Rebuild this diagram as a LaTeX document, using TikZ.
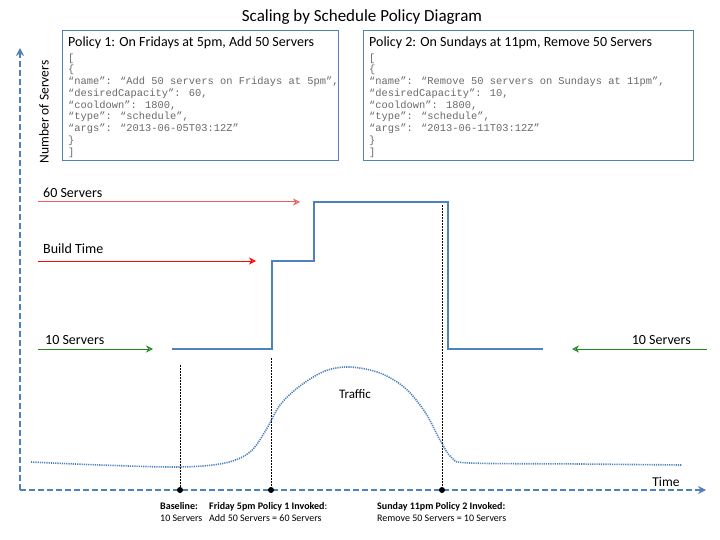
\documentclass[tikz,border=0pt]{standalone}
\usepackage{fontspec}
\setmainfont{Carlito}
\newfontfamily\codefont{Liberation Mono}
\usetikzlibrary{positioning, arrows.meta}
\definecolor{axisblue}{RGB}{79,129,189}
\definecolor{lightred}{RGB}{240,95,95}
\definecolor{darkgreen}{RGB}{30,135,30}
\definecolor{codegray}{RGB}{105,105,105}

\tikzset{
  axis/.style={axisblue, line width=1.6pt, dash pattern=on 6pt off 3pt, -{Stealth[length=8pt,width=8pt]}},
  policybox/.style={draw=axisblue, line width=0.8pt, anchor=north west, minimum height=130pt, inner sep=0pt},
  policytitle/.style={anchor=north west, font=\fontsize{14}{16}\selectfont, inner sep=0pt},
  code/.style={anchor=north west, align=left, inner sep=0pt, text=codegray, font=\codefont\fontsize{10.4}{11.75}\selectfont},
  marker/.style={line width=1pt, -{Stealth[length=7pt,width=7pt,open]}},
  serverlabel/.style={font=\fontsize{14}{16}\selectfont, inner sep=0pt},
  capacity/.style={axisblue, line width=2.2pt},
  guide/.style={black, line width=0.6pt, dash pattern=on 2pt off 1pt},
  dot/.style={circle, fill=black, inner sep=0pt, minimum size=6pt},
  traffic/.style={axisblue, line width=1.6pt, dash pattern=on 1.2pt off 1pt},
  note/.style={font=\fontsize{10}{12}\selectfont, align=left, anchor=north west, inner sep=0pt}
}

\begin{document}
\begin{tikzpicture}[x=1pt, y=-1pt]
\useasboundingbox (0,0) rectangle (720,540);

\node[font=\fontsize{17}{19}\selectfont] (title) at (362,17) {Scaling by Schedule Policy Diagram};

% axes
\coordinate (origin) at (20,490);
\coordinate (ytop) at (20,48);
\coordinate (xend) at (706,490);
\draw[axis] (origin) -- (ytop);
\draw[axis] (origin) -- (xend);
\node[rotate=90, serverlabel, font=\fontsize{13.5}{15}\selectfont] (ylabel) at (44,112) {Number of Servers};
\node[serverlabel, font=\fontsize{13.5}{15}\selectfont] (xlabel) at (666,482) {Time};

% policies
\node[policybox, minimum width=276pt] (box1) at (62,30) {};
\node[policytitle] (p1) at ([xshift=6pt, yshift=-7pt]box1.north west) {Policy 1: On Fridays at 5pm, Add 50 Servers};
\node[code, below=4pt of p1.south west, anchor=north west] (c1) {[\\\{\\“name”: “Add 50 servers on Fridays at 5pm”,\\“desiredCapacity”: 60,\\“cooldown”: 1800,\\“type”: “schedule”,\\“args”: “2013-06-05T03:12Z”\\\}\\]};

\node[policybox, minimum width=330pt] (box2) at (363,30) {};
\node[policytitle] (p2) at ([xshift=6pt, yshift=-7pt]box2.north west) {Policy 2: On Sundays at 11pm, Remove 50 Servers};
\node[code, below=4pt of p2.south west, anchor=north west] (c2) {[\\\{\\“name”: “Remove 50 servers on Sundays at 11pm”,\\“desiredCapacity”: 10,\\“cooldown”: 1800,\\“type”: “schedule”,\\“args”: “2013-06-11T03:12Z”\\\}\\]};

% markers
\coordinate (s60a) at (38,202);
\coordinate (s60b) at (300,202);
\coordinate (builda) at (38,261);
\coordinate (buildb) at (256,261);
\coordinate (s10a) at (38,349);
\coordinate (s10b) at (153,349);
\coordinate (r10a) at (707,349);
\coordinate (r10b) at (572,349);
\draw[marker, lightred] (s60a) -- (s60b);
\draw[marker, red] (builda) -- (buildb);
\draw[marker, darkgreen] (s10a) -- (s10b);
\draw[marker, darkgreen] (r10a) -- (r10b);
\node[serverlabel, anchor=base west] (l60) at (43,198) {60 Servers};
\node[serverlabel, anchor=base west] (lbuild) at (43,254) {Build Time};
\node[serverlabel, anchor=base west] (l10) at (45,344) {10 Servers};
\node[serverlabel, anchor=base east] (r10) at (691,344) {10 Servers};

% capacity
\coordinate (c0) at (172,349);
\coordinate (c1a) at (272,349);
\coordinate (c1b) at (272,261);
\coordinate (c2a) at (314,261);
\coordinate (c2b) at (314,202);
\coordinate (c3a) at (448,202);
\coordinate (c3b) at (448,349);
\coordinate (c4) at (543,349);
\draw[capacity] (c0) -- (c1a) -- (c1b) -- (c2a) -- (c2b) -- (c3a) -- (c3b) -- (c4);

% events
\node[dot] (e1) at (180,490) {};
\node[dot] (e2) at (271,490) {};
\node[dot] (e3) at (442,490) {};
\coordinate (g1) at (180,365);
\coordinate (g2) at (271,358);
\coordinate (g3) at (442,205);
\draw[guide] (g1) -- (e1);
\draw[guide] (g2) -- (e2);
\draw[guide] (g3) -- (e3);

% traffic
\draw[traffic] plot[smooth, tension=0.55] coordinates {(31,462) (100,465) (180,467) (225,463) (250,452) (266,430) (280,405) (300,386) (325,371) (350,367) (380,373) (405,388) (425,412) (440,440) (452,458) (470,463) (580,464) (682,465)};
\node[font=\fontsize{13}{15}\selectfont] (tlabel) at (355,394) {Traffic};

% notes
\node[note] (n1) at (160,502) {\textbf{Baseline:}\\10 Servers};
\node[note] (n2) at (209,502) {\textbf{Friday 5pm Policy 1 Invoked}:\\Add 50 Servers = 60 Servers};
\node[note] (n3) at (377,502) {\textbf{Sunday 11pm Policy 2 Invoked:}\\Remove 50 Servers = 10 Servers};
\end{tikzpicture}
\end{document}
